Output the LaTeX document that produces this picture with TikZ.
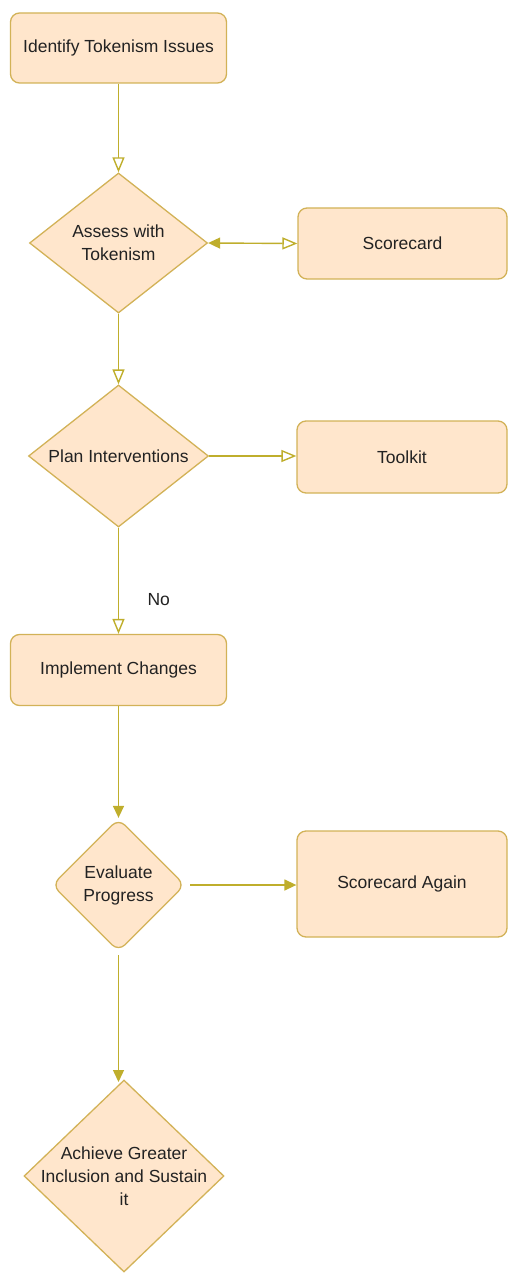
\documentclass[tikz,border=0pt]{standalone}
\usepackage{fontspec}
\setmainfont{Liberation Sans}
\usetikzlibrary{shapes.geometric,arrows.meta}
\definecolor{boxfill}{HTML}{FFE6CC}
\definecolor{boxline}{HTML}{D2B257}
\definecolor{linkcol}{HTML}{BFAE2C}
\definecolor{txt}{HTML}{222222}
\tikzset{
  every node/.style={font=\fontsize{17.5}{23}\selectfont, text=txt},
  stepbox/.style={draw=boxline, fill=boxfill, line width=1.3pt, rounded corners=9pt, inner sep=0pt, align=center},
  decide/.style={diamond, draw=boxline, fill=boxfill, line width=1.3pt, inner sep=0pt},
  decidetext/.style={align=center, inner sep=0pt},
  link/.style={draw=linkcol, line width=1.4pt},
  opentip/.style={-{Triangle[open, length=15pt, width=12pt]}},
  filltip/.style={-{Triangle[length=12pt, width=11pt]}},
}
\begin{document}
\begin{tikzpicture}[x=1pt, y=-1pt]
\useasboundingbox (0,0) rectangle (507,1273);
\node[stepbox, minimum width=216pt, minimum height=70pt] (identify) at (118.5,48) {Identify Tokenism Issues};
\node[decide, minimum width=178pt, minimum height=140pt] (assess) at (118.5,243) {};
\node[decidetext] (assesstext) at (assess) {Assess with\\Tokenism};
\node[stepbox, minimum width=209pt, minimum height=71pt] (score) at (402.5,243.5) {Scorecard};
\node[decide, minimum width=180pt, minimum height=142pt] (plan) at (118.5,456) {};
\node[decidetext] (plantext) at (plan) {Plan Interventions};
\node[stepbox, minimum width=210pt, minimum height=72pt] (toolkit) at (402,457) {Toolkit};
\node[stepbox, minimum width=216pt, minimum height=71pt] (implement) at (118.5,670) {Implement Changes};
\node[decide, rounded corners=9pt, minimum width=133pt, minimum height=133pt] (evaluate) at (118.5,885) {};
\node[decidetext] (evaluatetext) at (evaluate) {Evaluate\\Progress};
\node[stepbox, minimum width=210pt, minimum height=106pt] (again) at (402,884) {Scorecard Again};
\node[decide, minimum width=200pt, minimum height=192pt] (achieve) at (124,1176) {};
\node[decidetext] (achievetext) at (achieve) {Achieve Greater\\Inclusion and Sustain\\it};
\coordinate (evalout) at (190,885);
\coordinate (evalbot) at (118.5,955);
\coordinate (achtop) at (118.5,1082);
\draw[link, opentip] (identify.south) -- (assess.north);
\draw[link, {Triangle[length=12pt, width=11pt]}-{Triangle[open, length=15pt, width=12pt]}] (assess.east) -- (score.west);
\draw[link, opentip] (assess.south) -- (plan.north);
\draw[link, opentip] (plan.east) -- (plan.east -| toolkit.west);
\draw[link, opentip] (plan.south) -- node[pos=0.68, right=25pt]{No} (implement.north);
\draw[link, filltip] (implement.south) -- (evaluate.north);
\draw[link, filltip] (evalout) -- (evalout -| again.west);
\draw[link, filltip] (evalbot) -- (achtop);
\end{tikzpicture}
\end{document}
